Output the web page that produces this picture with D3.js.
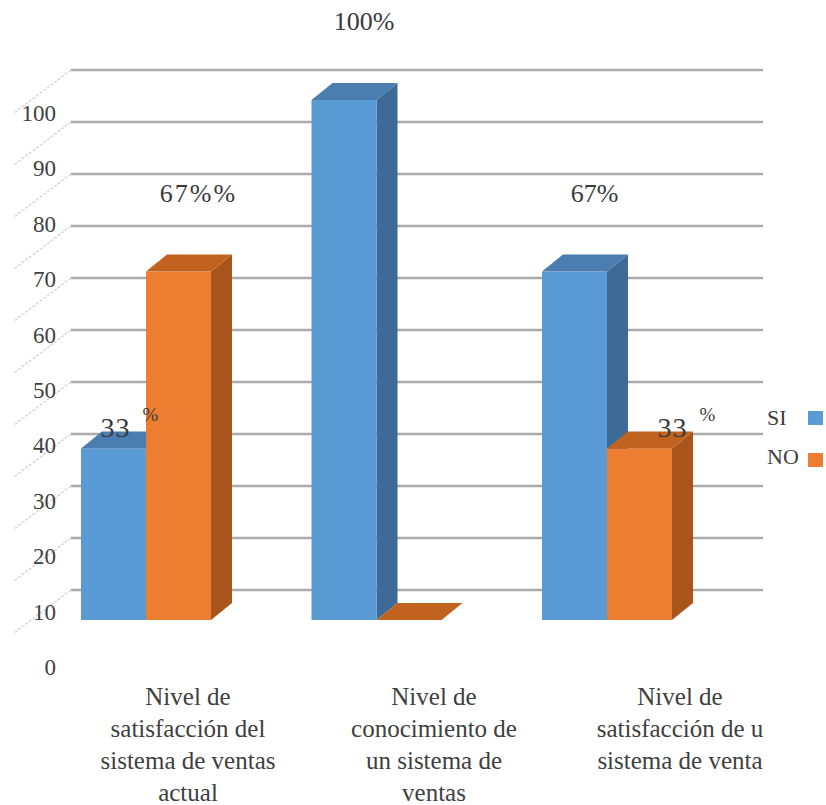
<!DOCTYPE html>
<html>
<head>
<meta charset="utf-8">
<script src="https://cdn.jsdelivr.net/npm/d3@7"></script>
<style>
  html, body { margin: 0; padding: 0; background: #fff; }
  svg { display: block; }
</style>
</head>
<body>
<svg id="chart" width="826" height="805"></svg>
<script>
// Survey results: three questions, answered SI / NO (percent)
const categoryLines = [
  ["Nivel de", "satisfacción del", "sistema de ventas", "actual"],
  ["Nivel de", "conocimiento de", "un sistema de", "ventas"],
  ["Nivel de", "satisfacción de u", "sistema de venta"]
];
const seriesNames = ["SI", "NO"];
const siValues = [33, 100, 67];
const noValues = [67, 0, 33];
const siLabels = ["33 %", "100%", "67%"];
const noLabels = ["67%%", "", "33 %"];
const tickValues = [0, 10, 20, 30, 40, 50, 60, 70, 80, 90, 100];

const colors = {
  SI: { front: "#5b9bd5", top: "#4a7db0", side: "#3d6a97" },
  NO: { front: "#ed7d31", top: "#c2621f", side: "#a9541b" }
};

const serif = "Liberation Serif, Times New Roman, Times, Tinos, Noto Serif, DejaVu Serif, FreeSerif, serif";
const svg = d3.select("#chart").style("font-family", serif);

// depth of the 3D extrusion
const depthX = 21, depthY = -17;

// front-face value scale
const y = d3.scaleLinear().domain([0, 100]).range([620, 100]);
// back-wall gridline scale
const yWall = d3.scaleLinear().domain([0, 100]).range([590, 70]);
// axis label scale
const yLabel = d3.scaleLinear().domain([0, 100]).range([667, 113]);

const x0 = d3.scaleBand().domain(d3.range(categoryLines.length))
  .range([81, 672]).paddingInner(0.436).paddingOuter(0);
const x1 = d3.scaleBand().domain(seriesNames).range([0, x0.bandwidth()]);
const xText = d3.scalePoint().domain(d3.range(categoryLines.length)).range([188, 680]);

// back wall gridlines and side-wall slants
const grid = svg.append("g");
grid.selectAll("line.h").data(tickValues).join("line")
  .attr("x1", 71).attr("x2", 763)
  .attr("y1", d => yWall(d)).attr("y2", d => yWall(d))
  .attr("stroke", "#aaaaaa").attr("stroke-width", 2.6);
grid.selectAll("line.s").data(tickValues).join("line")
  .attr("x1", 71).attr("y1", d => yWall(d))
  .attr("x2", 14).attr("y2", d => yWall(d) + 43)
  .attr("stroke", "#d4d4d4").attr("stroke-width", 1.3)
  .attr("stroke-dasharray", "3,1.5");

// axis tick labels
svg.append("g").selectAll("text").data(tickValues).join("text")
  .attr("x", 56).attr("y", d => yLabel(d))
  .attr("dy", "0.35em").attr("text-anchor", "end")
  .style("font-family", serif)
  .attr("font-size", 23).attr("fill", "#404040")
  .text(d => d);

// bars
const barData = [];
categoryLines.forEach((_, i) => {
  barData.push({ cat: i, key: "SI", value: siValues[i], label: siLabels[i] });
  barData.push({ cat: i, key: "NO", value: noValues[i], label: noLabels[i] });
});

const bars = svg.append("g");
barData.forEach(d => {
  const xl = x0(d.cat) + x1(d.key);
  const xr = xl + x1.bandwidth();
  const yt = y(d.value), yb = y(0);
  const c = colors[d.key];
  const g = bars.append("g");
  // side face
  g.append("path")
    .attr("d", `M${xr},${yb}L${xr + depthX},${yb + depthY}L${xr + depthX},${yt + depthY}L${xr},${yt}Z`)
    .attr("fill", c.side);
  // front face
  g.append("rect")
    .attr("x", xl).attr("y", yt).attr("width", xr - xl).attr("height", yb - yt)
    .attr("fill", c.front);
  // top face
  g.append("path")
    .attr("d", `M${xl},${yt}L${xl + depthX},${yt + depthY}L${xr + depthX},${yt + depthY}L${xr},${yt}Z`)
    .attr("fill", c.top);
});

// value labels
const labels = svg.append("g").attr("fill", "#3a3a3a").style("font-family", serif);
barData.filter(d => d.label).forEach(d => {
  const cx = x0(d.cat) + x1(d.key) + x1.bandwidth() / 2;
  if (d.value > 50) {
    labels.append("text")
      .attr("x", cx + 20).attr("y", y(d.value) - 70)
      .attr("text-anchor", "middle").attr("font-size", 26)
      .attr("letter-spacing", d.label.endsWith("%%") ? 2 : 0)
      .text(d.label);
  } else {
    const parts = d.label.split(" ");
    const t = labels.append("text")
      .attr("x", cx - 13 + (d.cat > 0 ? 31 : 0)).attr("y", y(d.value) - 11)
      .attr("font-size", 28).attr("letter-spacing", 1);
    t.append("tspan").text(parts[0]);
    t.append("tspan").attr("font-size", 19).attr("dx", 12).attr("dy", -16).text(parts[1]);
  }
});

// category labels
const catG = svg.append("g").attr("fill", "#404040").attr("font-size", 25).style("font-family", serif);
categoryLines.forEach((lines, i) => {
  const t = catG.append("text").attr("text-anchor", "middle");
  lines.forEach((ln, j) => {
    t.append("tspan").attr("x", xText(i)).attr("y", 705 + j * 32).text(ln);
  });
});

// legend
const legend = svg.append("g").style("font-family", serif);
seriesNames.forEach((name, i) => {
  const ly = 418 + i * 39;
  legend.append("text").attr("x", 767).attr("y", ly + 7)
    .attr("font-size", 22).attr("fill", "#404040").text(name);
  legend.append("rect").attr("x", 808).attr("y", ly - 7 + i * 3)
    .attr("width", 15).attr("height", 14).attr("fill", colors[name].front);
});
</script>
</body>
</html>
